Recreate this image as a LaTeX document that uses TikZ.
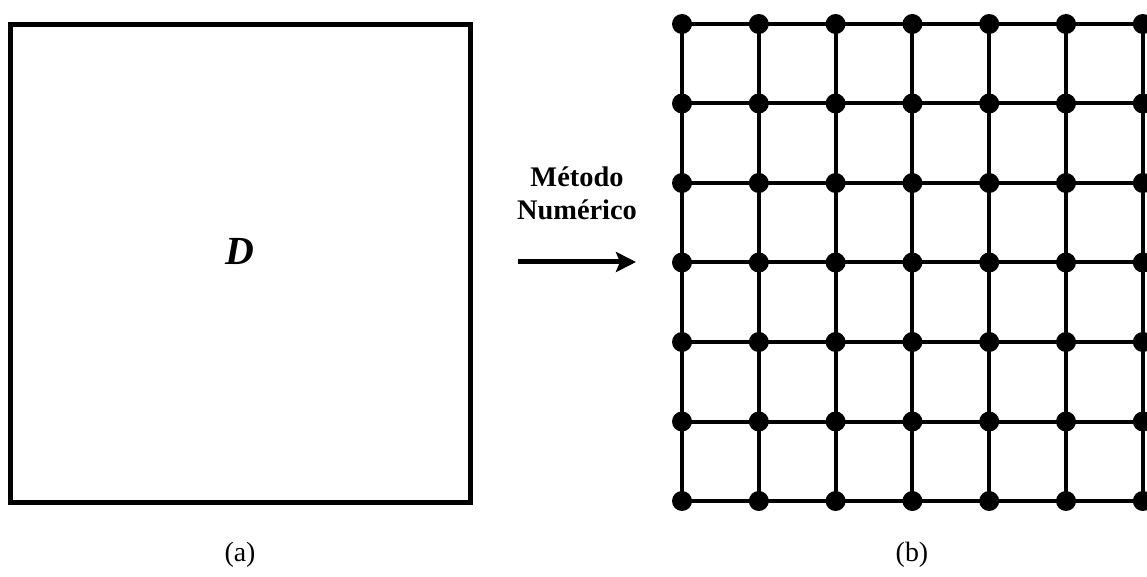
\documentclass[tikz,border=0pt]{standalone}
\usepackage{fontspec}
\setmainfont{Liberation Serif}
\usetikzlibrary{arrows.meta,positioning}

\tikzset{
  gridline/.style={line width=4bp},
  gridpt/.style={circle,fill=black,inner sep=0pt,minimum size=20bp},
}

\begin{document}
\begin{tikzpicture}[x=1bp,y=-1bp]
        \useasboundingbox (0,0) rectangle (1147,577);
        % domain
        \draw[line width=5bp] (10.5,24.5) rectangle (470,502);
        \node (dom) at (240,251) {\fontsize{40}{44}\selectfont\textbf{\textit{D}}};
        \node (capa) at (240,555) {\fontsize{28}{32}\selectfont (a)};
        % arrow
        \node[align=center,font=\fontsize{28.5}{33}\selectfont\bfseries] (met) at (577,193) {Método\\Numérico};
        \coordinate (ini) at (518,262);
        \coordinate (fim) at (636,262);
        \draw[line width=5bp,-{Stealth[length=20bp,width=20bp,inset=4bp]}] (ini) -- (fim);
        % mesh
        \foreach \i in {0,...,6}
            \foreach \j in {0,...,6}
                \coordinate (p\i\j) at ({682+76.8*\i},{24+79.5*\j});
        \foreach \k in {0,...,6} {
            \draw[gridline] (p\k0) -- (p\k6);
            \draw[gridline] (p0\k) -- (p6\k);
        }
        \foreach \i in {0,...,6}
            \foreach \j in {0,...,6}
                \node[gridpt] (n\i\j) at (p\i\j) {};
        \node (capb) at (912,555) {\fontsize{28}{32}\selectfont (b)};
    \end{tikzpicture}
\end{document}
